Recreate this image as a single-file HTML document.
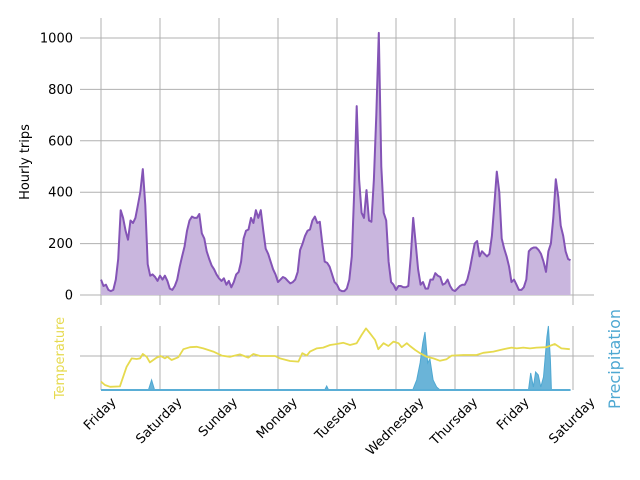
<!DOCTYPE html>
<html><head><meta charset="utf-8"><style>
body{margin:0;background:#fff}
svg{display:block;font-family:"DejaVu Sans","Liberation Sans",sans-serif}
</style></head><body>
<svg id="c" width="640" height="480" xmlns="http://www.w3.org/2000/svg">
<g id="grid"></g><g id="marks"></g><g id="labels"></g>
</svg>
<script>
const dayLabels=["Friday","Saturday","Sunday","Monday","Tuesday","Wednesday","Thursday","Friday","Saturday"];
const yTicks=[0,200,400,600,800,1000];
const trips=[
60,35,40,20,15,20,60,140,330,300,250,215,290,280,300,350,400,490,350,120,75,80,70,55,
75,60,75,55,25,20,35,60,110,150,190,250,290,305,300,300,315,240,220,170,140,115,100,80,
65,55,65,40,55,30,50,80,90,130,220,250,255,300,280,330,300,330,250,180,160,130,100,80,
50,60,70,65,55,45,50,60,90,175,200,230,250,255,290,305,280,285,200,130,125,110,80,50,
40,20,15,15,25,60,150,400,735,450,320,300,408,290,285,450,700,1020,500,320,290,130,50,40,
20,35,35,30,30,35,150,300,200,100,40,50,25,25,60,60,85,75,70,40,45,60,35,20,
15,25,35,40,40,60,100,150,200,210,150,170,160,150,160,230,350,480,400,220,180,150,110,50,
60,40,20,20,30,60,170,180,185,185,175,160,130,90,170,200,300,450,380,270,230,170,140,135];
const tempHours=[0,1.6,3.7,7.7,10.4,12.5,14.5,15.9,17,18.6,19.9,22.6,24.3,26,27,28.7,31.5,33.5,36.2,38.9,41.6,45.7,49.1,52.5,56.5,59.9,62,64.7,70.8,72.8,76.9,80.3,81.9,83.7,85,87.7,90.4,93.2,95.9,98.6,101.3,104,106,107.8,109.4,111.5,112.8,114.9,116.9,119,121,122.3,124.4,125.7,127.8,129.8,132.5,135.2,137.9,140.6,142.6,147.4,152.8,155.5,159.6,163.7,167,169.1,171.8,174.5,177.2,181.2,184.6,187.3,190.7];
const tempValues=[13.6,12.75,12.3,12.4,17.3,19.4,19.25,19.4,20.5,19.8,18.4,19.6,20,19.4,19.8,19,19.7,21.7,22.2,22.3,21.9,21.1,20.1,19.8,20.4,19.6,20.5,20,20,19.4,18.75,18.6,20.7,20.1,21.1,21.9,22.1,22.75,23,23.3,22.75,23.2,25.25,26.9,25.7,24,21.7,23.2,22.5,23.6,23.2,22.2,23.2,22.5,21.5,20.7,19.8,19.4,18.8,19.2,20.1,20.25,20.25,20.8,21.1,21.7,22.1,21.9,22.1,21.9,22.1,22.2,23,21.9,21.7];
const precipHours=[0,19.3,20.6,21.8,91,91.8,92.6,126.8,128.4,129.8,130.9,131.8,132.9,133.8,135.1,136.5,137.9,173.9,174.8,175.9,176.8,177.9,178.9,180,181.4,182,182.8,183.2,191];
const precipValues=[0,0,1.0,0,0,0.4,0,0,1.0,2.7,4.7,5.8,2.7,3.1,1.0,0.3,0,0,1.7,0.3,1.8,1.5,0.3,1.3,5.3,6.4,3.0,0,0];

const NS="http://www.w3.org/2000/svg";
const svg=document.getElementById('c'),G=document.getElementById('grid'),M=document.getElementById('marks'),L=document.getElementById('labels');
function el(t,a,p){const e=document.createElementNS(NS,t);for(const k in a)e.setAttribute(k,a[k]);(p||M).appendChild(e);return e;}
const xH=h=>101+h*(59/24);
const yT=v=>295-v*0.257;
const yTemp=t=>356-(t-20)*4;
const yP=p=>390-p*10;
// grid top
for(let i=0;i<dayLabels.length;i++){const x=101+i*59;
 const g=el('line',{x1:x,x2:x,y1:18,y2:305,stroke:'#b0b0b0','stroke-width':1},G);
 
 
 const g2=el('line',{x1:x,x2:x,y1:326,y2:390,stroke:'#b0b0b0','stroke-width':1},G);
 
 
 const t=el('text',{'font-size':13,fill:'#000','text-anchor':'middle'},L);
 t.textContent=dayLabels[i];
 
 
 const w=t.getComputedTextLength();const cx=x-1,cy=400+w/2*0.707+4;
 t.setAttribute('x',cx);t.setAttribute('y',cy);t.setAttribute('transform',`rotate(-45 ${cx} ${cy-4})`);
}
yTicks.forEach(v=>{const y=yT(v);
 const g=el('line',{x1:80,x2:594,y1:y,y2:y,stroke:'#b0b0b0','stroke-width':1},G);
 
 
 const t=el('text',{x:73,y:y+4.5,'font-size':13,'text-anchor':'end'},L);t.textContent=v;
 
 
});
const hg=el('line',{x1:80,x2:594,y1:356,y2:356,stroke:'#b0b0b0','stroke-width':1},G);


// trips
let pts=trips.map((v,i)=>xH(i).toFixed(1)+','+yT(v).toFixed(1));
const area=el('path',{d:'M'+xH(0)+','+yT(0)+' L'+pts.join(' L')+' L'+xH(trips.length-1)+','+yT(0)+'Z',fill:'#c9b6de'});


const line=el('polyline',{points:pts.join(' '),fill:'none',stroke:'#8454b6','stroke-width':2,'stroke-linejoin':'round'});


// precip
let pp=precipHours.map((h,i)=>xH(h).toFixed(1)+','+yP(precipValues[i]).toFixed(1));
const pa=el('path',{d:'M'+xH(precipHours[0])+','+yP(0)+' L'+pp.join(' L')+' L'+xH(precipHours[precipHours.length-1])+','+yP(0)+'Z',fill:'#6ab4d8',stroke:'#4fa8d2','stroke-width':1});


const pb=el('line',{x1:xH(0),x2:xH(191),y1:390,y2:390,stroke:'#5aaed6','stroke-width':2});


// temp
const tl=el('polyline',{points:tempHours.map((h,i)=>xH(h).toFixed(1)+','+yTemp(tempValues[i]).toFixed(1)).join(' '),fill:'none',stroke:'#e6da4e','stroke-width':1.8,'stroke-linejoin':'round'});


// axis titles
const a1=el('text',{x:0,y:0,'font-size':13,'text-anchor':'middle',transform:'translate(29 162) rotate(-90)'},L);a1.textContent='Hourly trips';


const a2=el('text',{x:0,y:0,'font-size':13,fill:'#e6da4e','text-anchor':'middle',transform:'translate(64 358) rotate(-90)'},L);a2.textContent='Temperature';


const a3=el('text',{x:0,y:0,'font-size':16,fill:'#4fa8d2','text-anchor':'middle',transform:'translate(620 359) rotate(-90)'},L);a3.textContent='Precipitation';


</script>
</body></html>
